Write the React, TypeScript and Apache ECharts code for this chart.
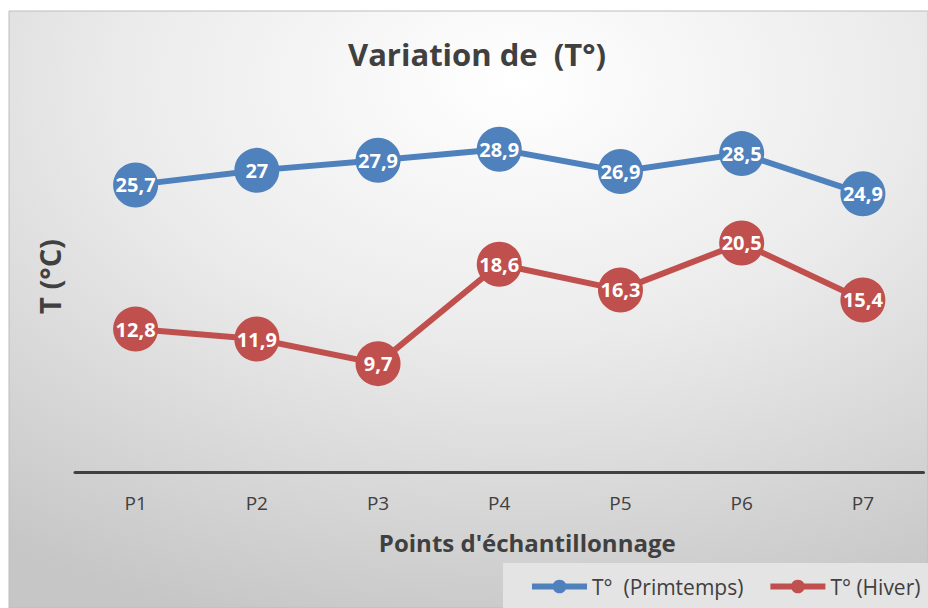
import React, { useEffect, useRef } from "react";
import * as echarts from "echarts";

const categories = ["P1", "P2", "P3", "P4", "P5", "P6", "P7"];
const springValues = [25.7, 27, 27.9, 28.9, 26.9, 28.5, 24.9];
const winterValues = [12.8, 11.9, 9.7, 18.6, 16.3, 20.5, 15.4];
const seriesNames = ["T°  (Primtemps)", "T° (Hiver)"];
const titleText = "Variation de  (T°)";
const yAxisName = "T (°C)";
const xAxisName = "Points d'échantillonnage";

const FONT = "'Open Sans', 'Noto Sans', sans-serif";
const TEXT = "#404040";

export default function App() {
  const ref = useRef<HTMLDivElement>(null);
  useEffect(() => {
    if (!ref.current) return;
    const chart = echarts.init(ref.current, undefined, { renderer: "svg" });
    const fmt = (p: any) => String(p.value).replace(".", ",");
    const mkSeries = (name: string, data: number[], color: string) => ({
      name,
      type: "line",
      data,
      symbol: "circle",
      symbolSize: 45,
      itemStyle: { color },
      lineStyle: { color, width: 6 },
      label: {
        show: true,
        position: "inside",
        formatter: fmt,
        color: "#ffffff",
        fontWeight: "bold",
        fontSize: 20,
        fontFamily: FONT,
      },
      emphasis: { disabled: true },
      z: 3,
    });
    chart.setOption({
      animation: false,
      textStyle: { fontFamily: FONT },
      graphic: [
        {
          type: "rect",
          z: -10,
          silent: true,
          shape: { x: 9, y: 11, width: 919, height: 597 },
          style: {
            fill: new echarts.graphic.RadialGradient(0.55, 0.12, 0.95, [
              { offset: 0, color: "#ffffff" },
              { offset: 0.45, color: "#ebebeb" },
              { offset: 1, color: "#c6c6c6" },
            ]),
            stroke: "#bdbdbd",
            lineWidth: 1,
          },
        },
        {
          type: "rect",
          z: -9,
          silent: true,
          shape: { x: 503, y: 563, width: 425, height: 45 },
          style: { fill: "#e4e4e4" },
        },
      ],
      title: {
        text: titleText,
        left: 343,
        top: 33,
        textStyle: { color: TEXT, fontSize: 31, fontWeight: "bold", fontFamily: FONT },
      },
      legend: {
        left: 529,
        top: 576,
        padding: 0,
        itemWidth: 55,
        itemHeight: 17,
        itemGap: 24,
        lineStyle: { width: 6 },
        textStyle: { color: TEXT, fontSize: 21, fontFamily: FONT },
        data: seriesNames,
      },
      grid: { left: 75, right: 4.5, top: 81, bottom: 136, containLabel: false },
      xAxis: {
        type: "category",
        data: categories,
        boundaryGap: true,
        axisLine: { lineStyle: { color: "#404040", width: 3 } },
        axisTick: { show: false },
        axisLabel: { color: TEXT, fontSize: 19, margin: 21, fontFamily: FONT },
        name: xAxisName,
        nameLocation: "middle",
        nameGap: 58,
        nameTextStyle: {
          color: TEXT,
          fontSize: 24,
          fontWeight: "bold",
          fontFamily: FONT,
          padding: [0, 0, 0, 56],
        },
      },
      yAxis: {
        type: "value",
        min: 0,
        max: 35,
        interval: 5,
        axisLine: { show: false },
        axisTick: { show: false },
        axisLabel: { show: false },
        splitLine: { show: false },
        name: yAxisName,
        nameLocation: "middle",
        nameGap: 11,
        nameRotate: 90,
        nameTextStyle: { color: TEXT, fontSize: 29, fontWeight: "bold", fontFamily: FONT },
      },
      series: [
        mkSeries(seriesNames[0], springValues, "#4f81bd"),
        mkSeries(seriesNames[1], winterValues, "#c0504d"),
      ],
    });
    return () => chart.dispose();
  }, []);
  return (
    <div
      ref={ref}
      style={{ position: "absolute", left: 0, top: 0, width: 928, height: 608, background: "#ffffff" }}
    />
  );
}
